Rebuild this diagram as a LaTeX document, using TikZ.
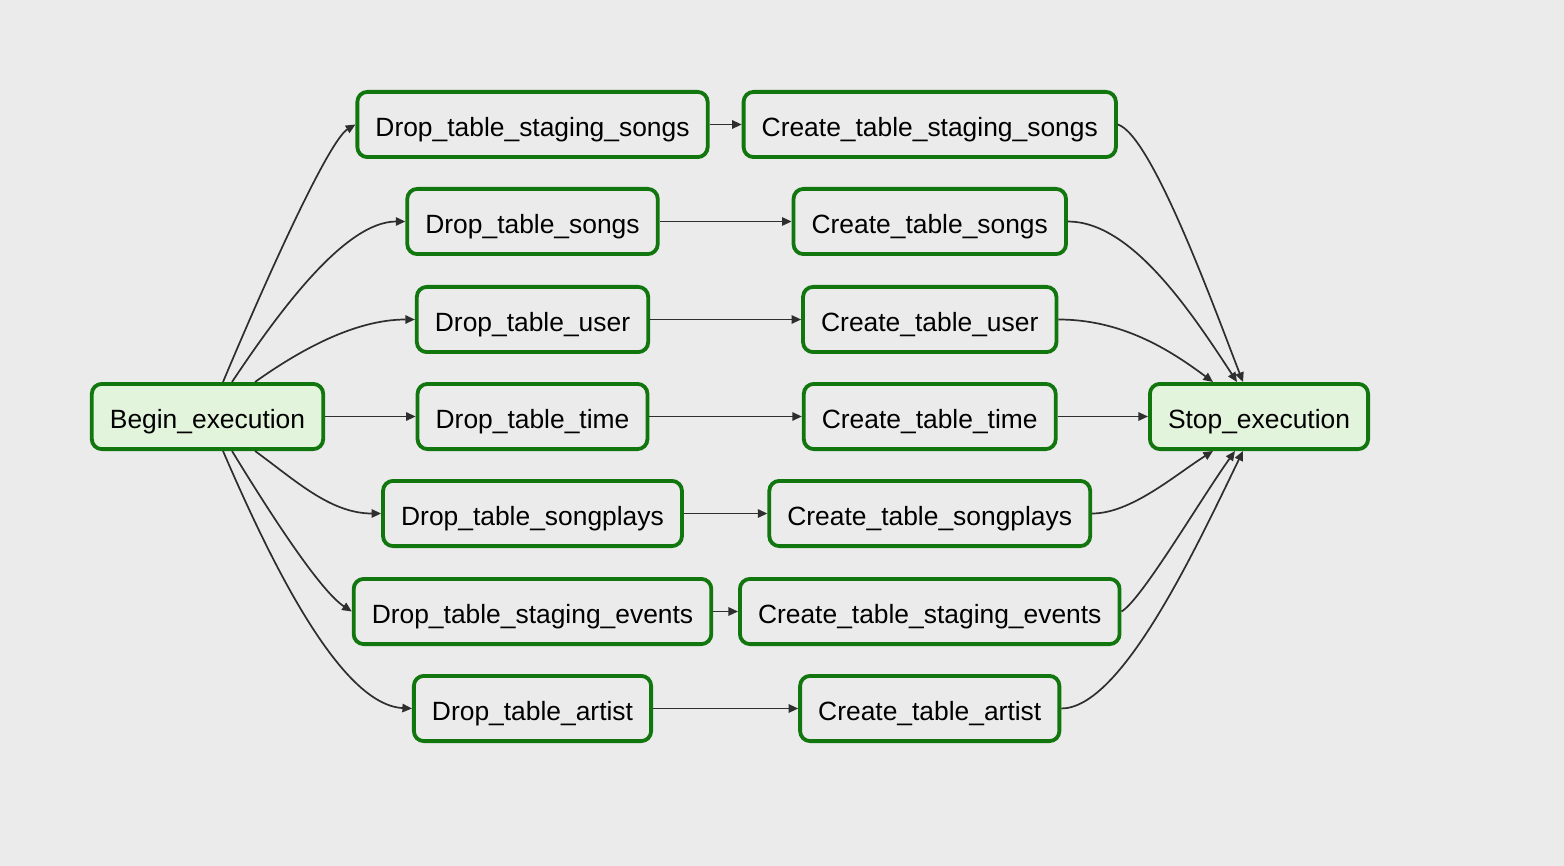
\documentclass[tikz,border=0pt]{standalone}
\usepackage{fontspec}
\setmainfont{Liberation Sans}
\usetikzlibrary{arrows.meta}
\definecolor{bg}{HTML}{EBEBEB}
\definecolor{okgreen}{HTML}{12760F}
\definecolor{dummyfill}{HTML}{E2F4DC}
\definecolor{edgecol}{HTML}{2E2E2E}
\begin{document}
\begin{tikzpicture}[x=0.5pt,y=-0.5pt,
  task/.style={draw=okgreen, line width=1.9pt, rounded corners=5pt, fill=bg,
    inner xsep=9.05pt, inner ysep=0pt, minimum height=32.6pt,
    text height=12pt, text depth=0pt,
    font=\fontsize{13.2}{15}\selectfont, text=black},
  dummy/.style={task, fill=dummyfill},
  edge/.style={draw=edgecol, line width=0.85pt, -{Triangle[length=4.8pt,width=4.2pt]}}]
\fill[bg] (0,0) rectangle (1564,866);
\useasboundingbox (0,0) rectangle (1564,866);

\node[dummy] (begin) at (207.5,416.5) {Begin\_execution};
\node[dummy] (stop) at (1259,416.5) {Stop\_execution};

\node[task] (d1) at (532.5,124.5) {Drop\_table\_staging\_songs};
\node[task] (d2) at (532.5,221.5) {Drop\_table\_songs};
\node[task] (d3) at (532.5,319.5) {Drop\_table\_user};
\node[task] (d4) at (532.5,416.5) {Drop\_table\_time};
\node[task] (d5) at (532.5,513.5) {Drop\_table\_songplays};
\node[task] (d6) at (532.5,611.5) {Drop\_table\_staging\_events};
\node[task] (d7) at (532.5,708.5) {Drop\_table\_artist};

\node[task] (c1) at (929.75,124.5) {Create\_table\_staging\_songs};
\node[task] (c2) at (929.75,221.5) {Create\_table\_songs};
\node[task] (c3) at (929.75,319.5) {Create\_table\_user};
\node[task] (c4) at (929.75,416.5) {Create\_table\_time};
\node[task] (c5) at (929.75,513.5) {Create\_table\_songplays};
\node[task] (c6) at (929.75,611.5) {Create\_table\_staging\_events};
\node[task] (c7) at (929.75,708.5) {Create\_table\_artist};

% Begin -> Drop
\draw[edge] ([xshift=7.75pt]begin.north) .. controls +(47,-112) and +(-26,15.5) .. (d1.west);
\draw[edge] ([xshift=12.25pt]begin.north) .. controls +(48,-72) and +(-60,0) .. (d2.west);
\draw[edge] ([xshift=23.75pt]begin.north) .. controls +(45,-32) and +(-60,0) .. (d3.west);
\draw[edge] (begin.east) -- (d4.west);
\draw[edge] ([xshift=23.75pt]begin.south) .. controls +(40,29) and +(-51,0) .. (d5.west);
\draw[edge] ([xshift=12.25pt]begin.south) .. controls +(33,54) and +(-33,-21.5) .. (d6.west);
\draw[edge] ([xshift=7.75pt]begin.south) .. controls +(47,109) and +(-72,-3.5) .. (d7.west);

% Drop -> Create
\draw[edge] (d1.east) -- (c1.west);
\draw[edge] (d2.east) -- (c2.west);
\draw[edge] (d3.east) -- (c3.west);
\draw[edge] (d4.east) -- (c4.west);
\draw[edge] (d5.east) -- (c5.west);
\draw[edge] (d6.east) -- (c6.west);
\draw[edge] (d7.east) -- (c7.west);

% Create -> Stop
\draw[edge] (c1.east) .. controls +(34,10.5) and +(-28,-72) .. ([xshift=-8pt]stop.north);
\draw[edge] (c2.east) .. controls +(63,0) and +(-47,-72) .. ([xshift=-11pt]stop.north);
\draw[edge] (c3.east) .. controls +(64,0) and +(-43,-32) .. ([xshift=-23pt]stop.north);
\draw[edge] (c4.east) -- (stop.west);
\draw[edge] (c5.east) .. controls +(39,0) and +(-38,24) .. ([xshift=-23pt]stop.south);
\draw[edge] (c6.east) .. controls +(20,-11.5) and +(-35,49) .. ([xshift=-12pt]stop.south);
\draw[edge] (c7.east) .. controls +(60,0) and +(-48,99) .. ([xshift=-8pt]stop.south);
\end{tikzpicture}
\end{document}
